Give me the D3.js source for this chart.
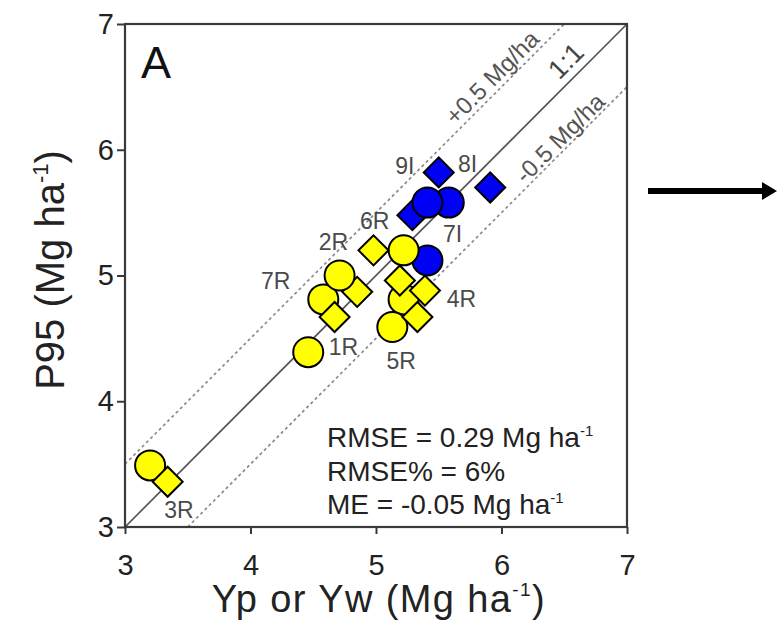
<!DOCTYPE html>
<html>
<head>
<meta charset="utf-8">
<script src="https://cdn.jsdelivr.net/npm/d3@7"></script>
<style>
  html, body { margin: 0; padding: 0; background: #fff; }
  svg { display: block; font-family: "Liberation Sans", Arial, sans-serif; }
</style>
</head>
<body>
<svg id="chart" width="777" height="621"></svg>
<script>
// Irrigated sites (blue) and rainfed sites (yellow); x = Yp or Yw, y = P95 (Mg/ha)
const irrigatedCircleX = [5.41, 5.58, 5.41];
const irrigatedCircleY = [5.12, 5.58, 5.58];
const irrigatedDiamondX = [5.29, 5.50, 5.91];
const irrigatedDiamondY = [5.48, 5.82, 5.70];
const rainfedCircleX = [4.58, 5.22, 5.13, 4.71, 5.22, 4.46, 3.20];
const rainfedCircleY = [4.81, 4.81, 4.59, 5.00, 5.20, 4.39, 3.49];
const rainfedDiamondX = [4.85, 4.98, 4.67, 5.19, 5.39, 5.33, 3.34];
const rainfedDiamondY = [4.87, 5.20, 4.67, 4.96, 4.88, 4.67, 3.36];

// Site names and where they sit (data units)
const siteNames = ["9I", "8I", "7I", "6R", "2R", "7R", "1R", "5R", "4R", "3R"];
const siteNameX = [5.23, 5.73, 5.61, 4.99, 4.66, 4.20, 4.74, 5.20, 5.68, 3.43];
const siteNameY = [5.81, 5.82, 5.27, 5.37, 5.20, 4.89, 4.37, 4.26, 4.75, 3.07];

const tickValues = [3, 4, 5, 6, 7];
const offsetLines = [0.5, -0.5];
const statLines = ["RMSE = 0.29 Mg ha", "RMSE% = 6%", "ME = -0.05 Mg ha"];
const statHasUnit = [true, false, true];

const svg = d3.select("#chart");
const x = d3.scaleLinear().domain([3, 7]).range([125, 627]);
const y = d3.scaleLinear().domain([3, 7]).range([527, 24]);

const axisColor = "#3a3a3a";

// reference lines: 1:1 and +/-0.5
svg.append("line")
  .attr("x1", x(3)).attr("y1", y(3)).attr("x2", x(7)).attr("y2", y(7))
  .attr("stroke", "#555").attr("stroke-width", 1.7);
offsetLines.forEach(o => {
  const x0 = o > 0 ? 3 : 3 - o, x1 = o > 0 ? 7 - o : 7;
  svg.append("line")
    .attr("x1", x(x0)).attr("y1", y(x0 + o)).attr("x2", x(x1)).attr("y2", y(x1 + o))
    .attr("stroke", "#8a8a8a").attr("stroke-width", 1.7).attr("stroke-dasharray", "3,3");
});

// rotated line annotations
function lineNote(text, atX, off, shift, size, color) {
  const px = x(atX), py = y(atX + off);
  const d = shift / Math.SQRT2;
  svg.append("text")
    .attr("transform", `translate(${px - d},${py - d}) rotate(-45)`)
    .attr("text-anchor", "middle")
    .attr("font-size", size).attr("fill", color)
    .text(text);
}
lineNote("+0.5 Mg/ha", 6.0, 0.5, 5, 24, "#555");
lineNote("-0.5 Mg/ha", 6.53, -0.5, 3, 24, "#555");
lineNote("1:1", 6.61, 0, 8, 27, "#444");

// points
const layer = svg.append("g");
function circles(xs, ys, idx, fill) {
  idx.forEach(i => {
    layer.append("circle")
      .attr("cx", x(xs[i])).attr("cy", y(ys[i])).attr("r", 15)
      .attr("fill", fill).attr("stroke", "#000").attr("stroke-width", 2);
  });
}
const diamond = d3.symbol().type(d3.symbolSquare).size(450);
function diamonds(xs, ys, idx, fill) {
  idx.forEach(i => {
    layer.append("path")
      .attr("d", diamond())
      .attr("transform", `translate(${x(xs[i])},${y(ys[i])}) rotate(45)`)
      .attr("fill", fill).attr("stroke", "#000").attr("stroke-width", 2);
  });
}
const blue = "#0000F5", yellow = "#FFFF00";
circles(irrigatedCircleX, irrigatedCircleY, [0, 1], blue);
diamonds(irrigatedDiamondX, irrigatedDiamondY, [0], blue);
circles(irrigatedCircleX, irrigatedCircleY, [2], blue);
diamonds(irrigatedDiamondX, irrigatedDiamondY, [1, 2], blue);
diamonds(rainfedDiamondX, rainfedDiamondY, [0], yellow);
circles(rainfedCircleX, rainfedCircleY, d3.range(rainfedCircleX.length), yellow);
diamonds(rainfedDiamondX, rainfedDiamondY, d3.range(1, rainfedDiamondX.length), yellow);

// site names
svg.append("g").selectAll("text").data(siteNames).join("text")
  .attr("x", (d, i) => x(siteNameX[i]))
  .attr("y", (d, i) => y(siteNameY[i]))
  .attr("text-anchor", "middle")
  .attr("font-size", 23).attr("fill", "#4a4a4a")
  .text(d => d);

// axes
const xAxis = svg.append("g").attr("transform", `translate(0,${y(3)})`)
  .call(d3.axisBottom(x).tickValues(tickValues).tickSize(7).tickPadding(20).tickFormat(d3.format("d")));
const yAxis = svg.append("g").attr("transform", `translate(${x(3)},0)`)
  .call(d3.axisLeft(y).tickValues(tickValues).tickSize(8).tickPadding(3).tickFormat(d3.format("d")));
[xAxis, yAxis].forEach(a => {
  a.select(".domain").remove();
  a.selectAll(".tick line").attr("stroke", axisColor).attr("stroke-width", 2);
  a.selectAll(".tick text").attr("font-size", 29).attr("fill", "#222")
    .attr("font-family", "Liberation Sans, Arial, sans-serif");
});

// frame
svg.append("rect")
  .attr("x", x(3)).attr("y", y(7)).attr("width", x(7) - x(3)).attr("height", y(3) - y(7))
  .attr("fill", "none").attr("stroke", axisColor).attr("stroke-width", 2.2);

// panel letter
svg.append("text").attr("x", 141).attr("y", 78).attr("font-size", 45).attr("fill", "#111").text("A");

// statistics
statLines.forEach((s, i) => {
  const t = svg.append("text").attr("x", 327).attr("y", 447 + i * 33.5)
    .attr("font-size", 28).attr("fill", "#222").text(s);
  if (statHasUnit[i]) t.append("tspan").attr("font-size", 15).attr("dy", -11).text("-1");
});

// axis titles
const xt = svg.append("text").attr("x", 379).attr("y", 612).attr("text-anchor", "middle")
  .attr("font-size", 38).attr("letter-spacing", 1.4).attr("fill", "#222").text("Yp or Yw (Mg ha");
xt.append("tspan").attr("font-size", 19).attr("dy", -16).text("-1");
xt.append("tspan").attr("dy", 16).text(")");

const yt = svg.append("text").attr("transform", "translate(64,270) rotate(-90)")
  .attr("text-anchor", "middle").attr("font-size", 40).attr("fill", "#222").text("P95 (Mg ha");
yt.append("tspan").attr("font-size", 22).attr("dy", -16).text("-1");
yt.append("tspan").attr("dy", 16).text(")");

// arrow
svg.append("line").attr("x1", 648).attr("y1", 191).attr("x2", 764).attr("y2", 191)
  .attr("stroke", "#000").attr("stroke-width", 6);
svg.append("path").attr("d", "M762,182 L777,191 L762,200 Z").attr("fill", "#000");
</script>
</body>
</html>
